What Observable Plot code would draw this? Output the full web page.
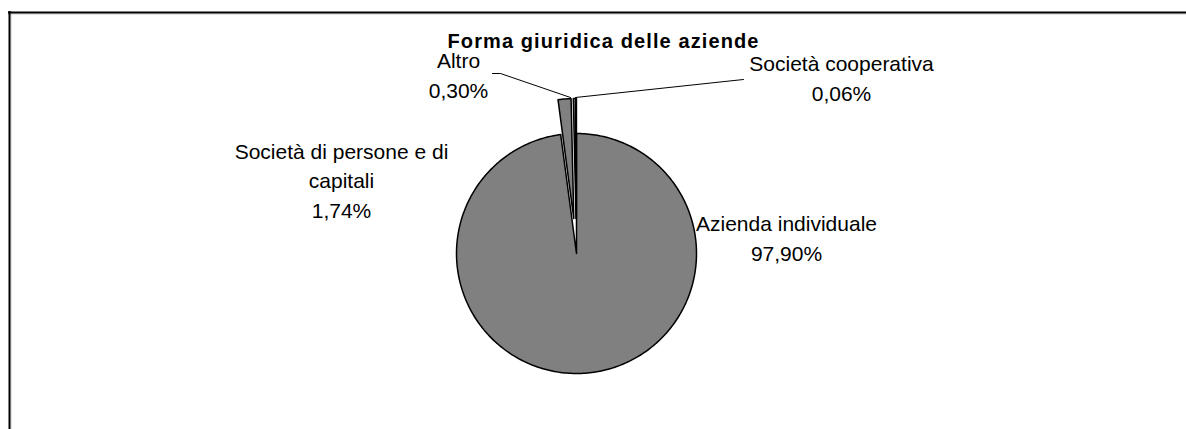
<!DOCTYPE html>
<html>
<head>
<meta charset="utf-8">
<script src="https://cdn.jsdelivr.net/npm/d3@7"></script>
<script src="https://cdn.jsdelivr.net/npm/@observablehq/plot@0.6"></script>
<style>
  body { margin: 0; background: #fff; }
  #chart svg { display: block; }
</style>
</head>
<body>
<div id="chart"></div>
<script>
// ---------- data ----------
const title = "Forma giuridica delle aziende";
const categories = ["Azienda individuale", "Società di persone e di capitali", "Altro", "Società cooperativa"];
const labelNames = ["Azienda individuale", "Società di persone e di\ncapitali", "Altro", "Società cooperativa"];
const shares = [97.90, 1.74, 0.30, 0.06];
const shareLabels = ["97,90%", "1,74%", "0,30%", "0,06%"];
const exploded = [false, true, true, true];

// ---------- layout (pixel geometry of the original picture) ----------
const W = 1186, H = 429;
const CX = 576, CY = 253, R = 120;       // pie centre and radius in pixels
const EXPLODE = 35 / R;                  // explosion distance in radius units
const frameLeft = 8, frameTop = 11;
const u = (px, py) => ({x: (px - CX) / R, y: (CY - py) / R}); // pixel -> pie units

const labelAnchors = [u(786, 260), u(341, 217), u(458, 97), u(841, 100)]; // last baseline, centre
const titleAnchor = u(603, 47);
const leaders = [
  {key: "Altro", pts: [u(492, 73), u(500, 73), u(570, 97)]},
  {key: "Società cooperativa", pts: [u(575, 97), u(743, 79)]}
];

// ---------- geometry built from the data ----------
const arcs = d3.pie().sort(null).startAngle(0).endAngle(2 * Math.PI)(shares);
const slicePts = [];
arcs.forEach((a, i) => {
  const mid = (a.startAngle + a.endAngle) / 2;
  const ox = exploded[i] ? EXPLODE * Math.sin(mid) : 0;
  const oy = exploded[i] ? EXPLODE * Math.cos(mid) : 0;
  slicePts.push({key: categories[i], order: i, x: ox, y: oy});
  const n = Math.max(2, Math.ceil((a.endAngle - a.startAngle) / (Math.PI / 180)) + 1);
  for (let k = 0; k < n; k++) {
    const t = a.startAngle + (a.endAngle - a.startAngle) * k / (n - 1);
    slicePts.push({key: categories[i], order: i, x: ox + Math.sin(t), y: oy + Math.cos(t)});
  }
});

const labels = categories.map((c, i) => ({
  text: labelNames[i] + "\n" + shareLabels[i],
  x: labelAnchors[i].x,
  y: labelAnchors[i].y
}));

const leaderPts = leaders.flatMap(l => l.pts.map(p => ({key: l.key, x: p.x, y: p.y})));

const xDomain = [(frameLeft - CX) / R, (W - CX) / R];
const yDomain = [(CY - H) / R, (CY - frameTop) / R];

const chart = Plot.plot({
  width: W,
  height: H,
  marginTop: frameTop,
  marginLeft: frameLeft,
  marginRight: 0,
  marginBottom: 0,
  x: {domain: xDomain, axis: null},
  y: {domain: yDomain, axis: null},
  style: {fontFamily: "'Liberation Sans', Arial, sans-serif", background: "#fff", color: "#000"},
  marks: [
    // chart-area border (top and left edges, with light inner shadow)
    Plot.ruleY([yDomain[1]], {stroke: "#c8c8c8", strokeWidth: 1, dy: 2.5, x1: xDomain[0], x2: xDomain[1]}),
    Plot.ruleX([xDomain[0]], {stroke: "#c8c8c8", strokeWidth: 1, dx: 2.5, y1: yDomain[0], y2: yDomain[1]}),
    Plot.ruleY([yDomain[1]], {stroke: "#000", strokeWidth: 2, dy: 1, x1: xDomain[0], x2: xDomain[1]}),
    Plot.ruleX([xDomain[0]], {stroke: "#000", strokeWidth: 2, dx: 1, y1: yDomain[0], y2: yDomain[1]}),
    // slices
    Plot.line(slicePts, {
      x: "x", y: "y", z: "key",
      fill: "#808080", stroke: "#000", strokeWidth: 1.5,
      curve: "linear-closed", strokeLinejoin: "round"
    }),
    // leader lines
    Plot.line(leaderPts, {x: "x", y: "y", z: "key", stroke: "#000", strokeWidth: 1}),
    // data labels
    Plot.text(labels, {
      x: "x", y: "y", text: "text",
      fontSize: 21, lineHeight: 1.4, lineAnchor: "bottom", textAnchor: "middle", fill: "#000"
    }),
    // title
    Plot.text([title], {
      x: titleAnchor.x, y: titleAnchor.y, text: d => d,
      fontSize: 20, fontWeight: "bold", lineAnchor: "bottom", textAnchor: "middle", fill: "#000"
    })
  ]
});

chart.querySelectorAll("text").forEach(t => {
  if (t.textContent === title) t.setAttribute("letter-spacing", "1.1px");
});

document.getElementById("chart").appendChild(chart);
</script>
</body>
</html>
